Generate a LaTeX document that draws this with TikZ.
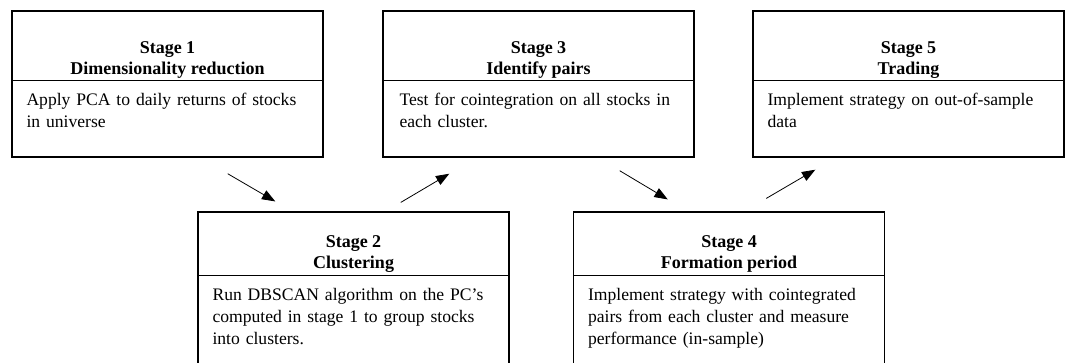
\documentclass[tikz,border=0pt]{standalone}
\usepackage{fontspec}
\setmainfont{Liberation Serif}
\usetikzlibrary{calc,arrows.meta}

\tikzset{
  stagebox/.style={draw, line width=1.1pt, minimum width=233.25pt, inner sep=0pt},
  topbox/.style={stagebox, minimum height=109.5pt},
  lowbox/.style={stagebox, minimum height=122pt},
  stagehead/.style={align=center, inner sep=0pt, font=\fontsize{13.5}{15.75}\selectfont\bfseries},
  stagetext/.style={anchor=north west, align=left, inner sep=0pt, text width=210pt,
    font=\fontsize{13.2}{16.5}\selectfont},
  divider/.style={line width=0.5pt},
  flow/.style={line width=0.6pt, -{Triangle[length=10pt,width=7.5pt]}}
}

\begin{document}
\begin{tikzpicture}[x=0.75pt,y=-0.75pt]
    \useasboundingbox (0,0) rectangle (1066,363);
    \clip (0,0) rectangle (1066,363);

    % Riquadri in alto
    \node[topbox] (s1) at (167.5,84) {};
    \node[topbox] (s3) at (538.5,84) {};
    \node[topbox] (s5) at (908.5,84) {};

    % Riquadri in basso (tagliati dal bordo)
    \node[lowbox] (s2) at (353.5,293.5) {};
    \node[lowbox] (s4) at (729,293.5) {};

    % Intestazioni
    \node[stagehead] (h1) at ($(s1.north)+(0,49.5)$) {Stage 1\\Dimensionality reduction};
    \node[stagehead] (h3) at ($(s3.north)+(0,49.5)$) {Stage 3\\Identify pairs};
    \node[stagehead] (h5) at ($(s5.north)+(0,49.5)$) {Stage 5\\Trading};
    \node[stagehead] (h2) at ($(s2.north)+(0,43)$) {Stage 2\\Clustering};
    \node[stagehead] (h4) at ($(s4.north)+(0,43)$) {Stage 4\\Formation period};

    % Linee di separazione
    \draw[divider] ($(s1.north west)+(0,70)$) -- ($(s1.north east)+(0,70)$);
    \draw[divider] ($(s3.north west)+(0,70)$) -- ($(s3.north east)+(0,70)$);
    \draw[divider] ($(s5.north west)+(0,70)$) -- ($(s5.north east)+(0,70)$);
    \draw[divider] ($(s2.north west)+(0,64)$) -- ($(s2.north east)+(0,64)$);
    \draw[divider] ($(s4.north west)+(0,64)$) -- ($(s4.north east)+(0,64)$);

    % Testi descrittivi
    \node[stagetext] (b1) at ($(s1.north west)+(15,83)$) {Apply PCA to daily returns of stocks in universe};
    \node[stagetext] (b3) at ($(s3.north west)+(17,83)$) {Test for cointegration on all stocks in each cluster.};
    \node[stagetext] (b5) at ($(s5.north west)+(15,83)$) {Implement strategy on out-of-sample data};
    \node[stagetext] (b2) at ($(s2.north west)+(15,77)$) {Run DBSCAN algorithm on the PC’s computed in stage 1 to group stocks into clusters.};
    \node[stagetext] (b4) at ($(s4.north west)+(15,77)$) {Implement strategy with cointegrated pairs from each cluster and measure performance (in-sample)};

    % Estremi delle frecce
    \coordinate (s1out) at ($(s1.south east)+(-96,16)$);
    \coordinate (s2in)  at ($(s2.north west)+(78,-10)$);
    \coordinate (s2out) at ($(s2.north east)+(-109,-9)$);
    \coordinate (s3in)  at ($(s3.south west)+(67,16)$);
    \coordinate (s3out) at ($(s3.south east)+(-75,13)$);
    \coordinate (s4in)  at ($(s4.north west)+(95,-12)$);
    \coordinate (s4out) at ($(s4.north east)+(-119,-13)$);
    \coordinate (s5in)  at ($(s5.south west)+(63,12)$);

    % Frecce tra le fasi
    \draw[flow] (s1out) -- (s2in);
    \draw[flow] (s2out) -- (s3in);
    \draw[flow] (s3out) -- (s4in);
    \draw[flow] (s4out) -- (s5in);
\end{tikzpicture}
\end{document}
